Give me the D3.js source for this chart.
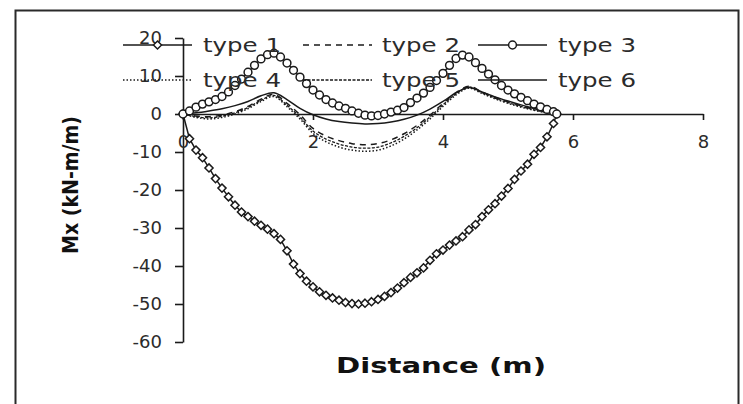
<!DOCTYPE html>
<html>
<head>
<meta charset="utf-8">
<script src="https://cdn.jsdelivr.net/npm/d3@7"></script>
<style>
  html, body { margin: 0; padding: 0; background: #fff; }
  svg { display: block; }
</style>
</head>
<body>
<svg id="chart" width="743" height="404"></svg>
<script>
// Bending moment Mx along the strip, six load types
const xFine = [0,0.1,0.2,0.3,0.4,0.5,0.6,0.7,0.8,0.9,1.0,1.1,1.2,1.3,1.4,1.5,1.6,1.7,1.8,1.9,
  2.0,2.1,2.2,2.3,2.4,2.5,2.6,2.7,2.8,2.9,3.0,3.1,3.2,3.3,3.4,3.5,3.6,3.7,3.8,3.9,
  4.0,4.1,4.2,4.3,4.4,4.5,4.6,4.7,4.8,4.9,5.0,5.1,5.2,5.3,5.4,5.5,5.6,5.7,5.75];
const xCoarse = [0,0.2,0.4,0.6,0.8,1.0,1.2,1.4,1.6,1.8,2.0,2.2,2.4,2.6,2.8,3.0,3.2,3.4,3.6,3.8,
  4.0,4.2,4.4,4.6,4.8,5.0,5.2,5.4,5.6,5.75];

const type1 = [0,-6.5,-9.5,-11.5,-14.2,-17,-19.5,-21.8,-24,-25.8,-27,-28.2,-29.3,-30.3,-31.5,-33,-36,-39.5,-42,-44,
  -45.5,-46.8,-47.7,-48.4,-49,-49.6,-49.9,-50,-49.8,-49.4,-48.8,-48,-47,-45.8,-44.4,-43,-41.8,-40.5,-38.5,-36.8,
  -35.8,-34.5,-33.4,-32.3,-30.5,-29.1,-27,-25.2,-23.6,-21.6,-19.6,-17.2,-15,-13.2,-10.6,-8.8,-6,-2.5,0];
const type3 = [0,0.8,1.8,2.6,3.2,3.8,4.6,5.8,7.5,9.2,11,12.8,14.5,15.6,16,15,13.4,11.5,9.7,8,
  6.3,5,3.8,2.9,2.1,1.5,0.8,0.2,-0.3,-0.5,-0.4,0,0.5,1.0,1.7,3,4.2,5.5,7,8.8,
  10.7,12.8,14.6,15.5,15,13.5,12,10.5,9,7.5,6.3,5.3,4.4,3.5,2.6,1.9,1.2,0.6,0];
const type2 = [0,-0.5,-0.7,-0.3,0.6,2.0,3.9,5.2,2.8,-0.2,-3.8,-5.8,-7.0,-7.8,-8.1,-7.8,-6.8,-5.2,-3.0,-0.3,
  2.8,5.6,7.3,5.8,4.4,3.2,2.2,1.3,0.5,0];
const type4 = [0,-0.9,-1.3,-0.9,0,1.4,3.3,4.6,1.9,-1.3,-5.1,-7.3,-8.7,-9.5,-9.8,-9.5,-8.4,-6.6,-4.2,-1.3,
  2.0,5.0,6.8,5.4,4.0,2.8,1.8,1.0,0.3,0];
const type5 = [0,-0.7,-1.0,-0.6,0.3,1.7,3.6,4.9,2.3,-0.8,-4.5,-6.6,-7.9,-8.7,-9.0,-8.7,-7.6,-5.9,-3.6,-0.8,
  2.4,5.3,7.1,5.6,4.2,3.0,2.0,1.1,0.4,0];
const type6 = [0,0.3,0.8,1.4,2.2,3.3,4.8,5.6,3.8,1.5,-0.2,-1.3,-2.0,-2.4,-2.6,-2.5,-2.1,-1.4,-0.3,1.3,
  3.3,5.6,7.0,5.8,4.5,3.4,2.4,1.5,0.6,0];

const xTicks = [0, 2, 4, 6, 8];
const yTicks = [20, 10, 0, -10, -20, -30, -40, -50, -60];
const seriesNames = ["type 1", "type 2", "type 3", "type 4", "type 5", "type 6"];

const svg = d3.select("#chart");
const ink = "#1a1a1a";
const font = "DejaVu Sans, Verdana, sans-serif";

// outer chart frame
svg.append("rect")
  .attr("x", 15.5).attr("y", 10.5).attr("width", 723).attr("height", 410)
  .attr("fill", "#fff").attr("stroke", "#2a2a2a").attr("stroke-width", 2);

const x = d3.scaleLinear().domain([0, 8]).range([183, 703]);
const y = d3.scaleLinear().domain([-60, 20]).range([342, 38]);

// y axis
const yAxis = svg.append("g")
  .attr("transform", `translate(${x(0)},0)`)
  .call(d3.axisLeft(y).tickValues(yTicks).tickSize(8).tickSizeOuter(0).tickPadding(13)
    .tickFormat(d => String(d)));
yAxis.select(".domain").attr("stroke", ink).attr("stroke-width", 1.6);
yAxis.selectAll(".tick line").attr("stroke", ink).attr("stroke-width", 1.6);
yAxis.selectAll(".tick text")
  .attr("font-family", font).attr("font-size", 18).attr("fill", "#2b2b2b");

// x axis along the zero line
const xAxis = svg.append("g")
  .attr("transform", `translate(0,${y(0)})`)
  .call(d3.axisBottom(x).tickValues(xTicks).tickSize(6).tickSizeOuter(0));
xAxis.select(".domain").attr("stroke", ink).attr("stroke-width", 1.6);
xAxis.selectAll(".tick line").attr("stroke", ink).attr("stroke-width", 1.6);
xAxis.selectAll(".tick text")
  .attr("y", 34).attr("dy", 0)
  .attr("font-family", font).attr("font-size", 18).attr("fill", "#2b2b2b");

// axis titles
svg.append("text")
  .attr("transform", `translate(78,185) rotate(-90)`)
  .attr("text-anchor", "middle")
  .attr("font-family", font)
  .attr("font-weight", "bold").attr("font-size", 22).attr("fill", "#111")
  .attr("textLength", 138).attr("lengthAdjust", "spacingAndGlyphs")
  .text("Mx (kN-m/m)");
svg.append("text")
  .attr("x", 441).attr("y", 373)
  .attr("text-anchor", "middle")
  .attr("font-family", font)
  .attr("font-weight", "bold").attr("font-size", 22).attr("fill", "#111")
  .attr("textLength", 210).attr("lengthAdjust", "spacingAndGlyphs")
  .text("Distance (m)");

// series styling
const styles = [
  { dash: null, width: 1.5, marker: "diamond" },
  { dash: "6,5", width: 1.5, marker: null },
  { dash: null, width: 1.5, marker: "circle" },
  { dash: "1.5,2", width: 1.5, marker: null },
  { dash: "3,1.5", width: 1.3, marker: null },
  { dash: null, width: 1.5, marker: null }
];
const series = [
  { xs: xFine, ys: type1 },
  { xs: xCoarse, ys: type2 },
  { xs: xFine, ys: type3 },
  { xs: xCoarse, ys: type4 },
  { xs: xCoarse, ys: type5 },
  { xs: xCoarse, ys: type6 }
];

const diamondPath = d3.symbol().type(d3.symbolDiamond2 || d3.symbolDiamond).size(42)();

function drawMarker(g, kind, cx, cy) {
  if (kind === "diamond") {
    g.append("path").attr("d", diamondPath)
      .attr("transform", `translate(${cx},${cy})`)
      .attr("fill", "#fff").attr("stroke", ink).attr("stroke-width", 1.5);
  } else if (kind === "circle") {
    g.append("circle").attr("cx", cx).attr("cy", cy).attr("r", 3.9)
      .attr("fill", "#fff").attr("stroke", ink).attr("stroke-width", 1.5);
  }
}

const plot = svg.append("g");
// lower-magnitude curves first, marker series on top
[5, 4, 3, 1, 0, 2].forEach(i => {
  const s = series[i], st = styles[i];
  const pts = s.xs.map((xv, k) => [xv, s.ys[k]]);
  const smooth = st.marker ? d3.curveLinear : d3.curveCatmullRom.alpha(0.5);
  const line = d3.line().x(d => x(d[0])).y(d => y(d[1])).curve(smooth);
  plot.append("path").datum(pts)
    .attr("d", line)
    .attr("fill", "none").attr("stroke", ink)
    .attr("stroke-width", st.width)
    .attr("stroke-dasharray", st.dash);
  if (st.marker) {
    const mg = plot.append("g");
    pts.forEach(p => drawMarker(mg, st.marker, x(p[0]), y(p[1])));
  }
});

// legend: two rows of three entries, symbol then label
const legend = svg.append("g");
const colSym = [123, 303, 478];
const colText = [203, 382, 558];
const rowY = [45, 80];
seriesNames.forEach((name, i) => {
  const r = Math.floor(i / 3), c = i % 3, st = styles[i];
  const x0 = colSym[c], x1 = colSym[c] + 69, ly = rowY[r];
  legend.append("line")
    .attr("x1", x0).attr("x2", x1).attr("y1", ly).attr("y2", ly)
    .attr("stroke", ink).attr("stroke-width", st.width)
    .attr("stroke-dasharray", st.dash);
  if (st.marker) drawMarker(legend, st.marker, (x0 + x1) / 2, ly);
  legend.append("text")
    .attr("x", colText[c]).attr("y", ly + 7)
    .attr("font-family", font)
    .attr("font-size", 20).attr("fill", "#2b2b2b")
    .attr("textLength", 78).attr("lengthAdjust", "spacingAndGlyphs")
    .text(name);
});
</script>
</body>
</html>
